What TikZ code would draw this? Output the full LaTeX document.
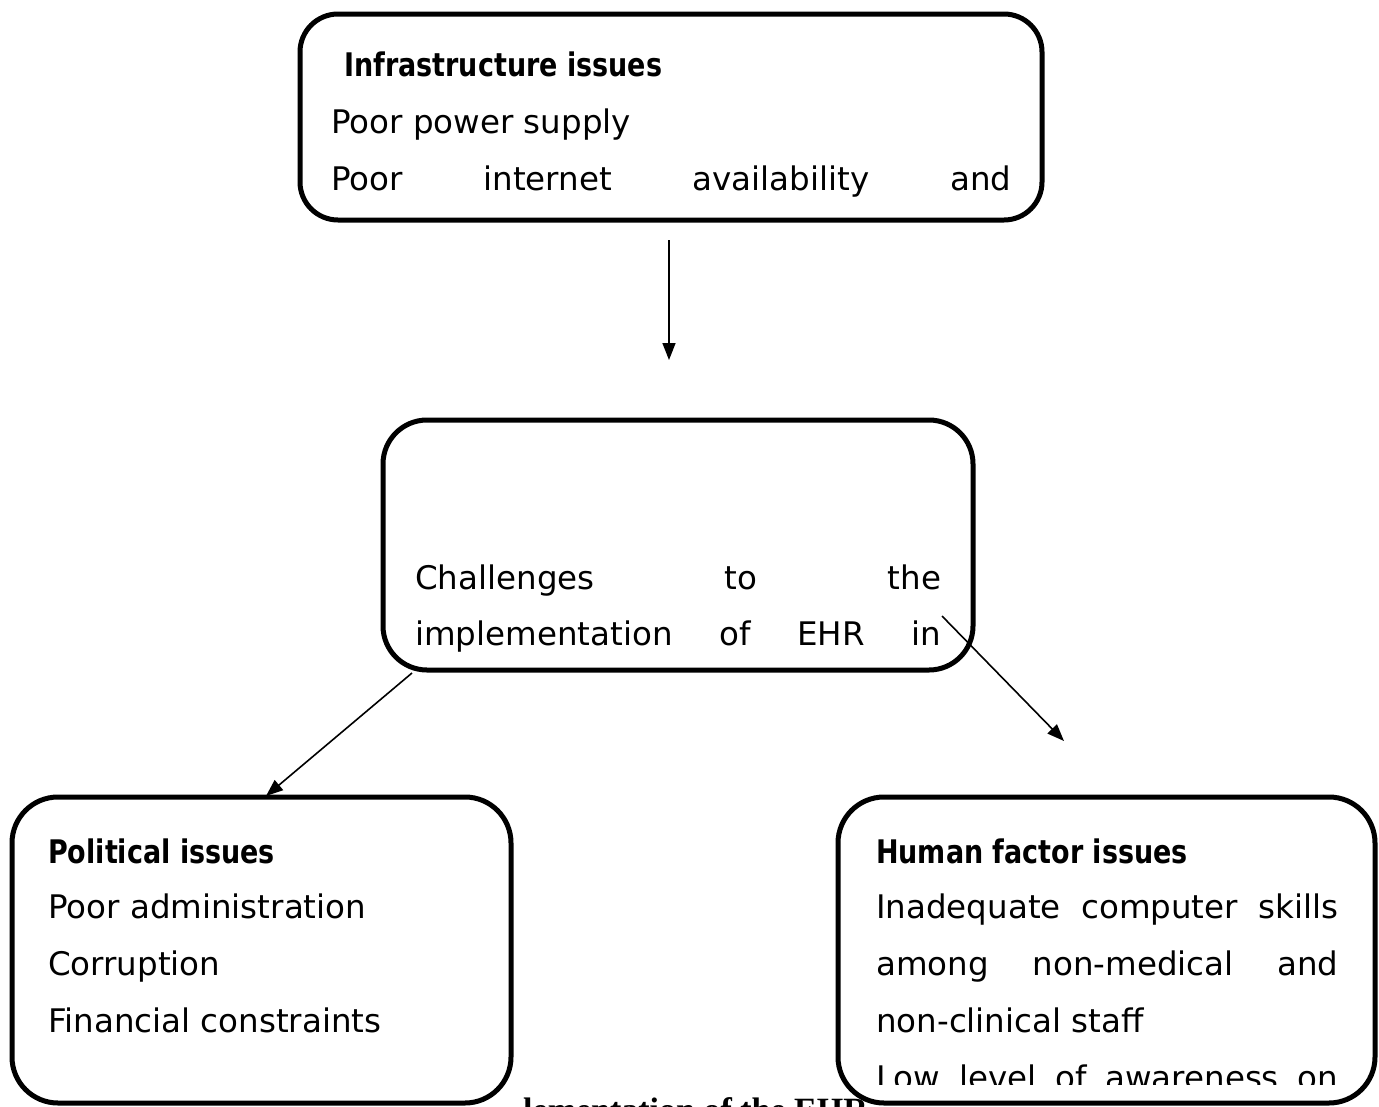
\documentclass[tikz,border=0pt]{standalone}
\usepackage{fontspec}
\usepackage{graphicx}
\setmainfont{DejaVu Sans}
\newfontfamily\capfont{Liberation Serif}
\usetikzlibrary{arrows.meta}
\tikzset{
  box/.style={draw=black, line width=5pt, fill=white, rounded corners=#1, inner sep=0pt},
  box/.default=42pt,
  txt/.style={anchor=base west, inner sep=0pt, font=\fontsize{32.5}{39}\selectfont},
  arr/.style={line width=1.6pt, -{Triangle[length=17pt,width=13pt]}},
}
\newcommand{\hd}[1]{\scalebox{0.83}[1]{\bfseries #1}}
\begin{document}
\begin{tikzpicture}[x=1pt,y=-1pt]
\useasboundingbox (0,0) rectangle (1379,1106);
\clip (0,0) rectangle (1379,1106);
\fill[white] (0,0) rectangle (1379,1106);

% caption (mostly hidden)
\node[anchor=base west, inner sep=0pt, font=\capfont\bfseries\fontsize{34}{40}\selectfont] (cap) at (523,1121) {lementation of the EHR};

% boxes
\node[box=38pt, minimum width=742pt, minimum height=206pt] (infra) at (671,117) {};
\node[box=44pt, minimum width=590pt, minimum height=250pt] (chal) at (678,545) {};
\node[box=46pt, minimum width=499pt, minimum height=306pt] (pol) at (261.5,950) {};
\node[box=46pt, minimum width=537pt, minimum height=306pt] (hum) at (1106.5,950) {};

% top box text
\node[txt] (t1) at (344,76) {\hd{Infrastructure issues}};
\node[txt] (t2) at (331,133) {Poor power supply};
\node[txt] (t3) at (331,190) {\makebox[680pt][s]{Poor\hfill internet\hfill availability\hfill and}};

% middle box text
\node[txt] (c1) at (415,589) {\makebox[526pt][s]{Challenges\hfill to\hfill the}};
\node[txt] (c2) at (415,645) {\makebox[526pt][s]{implementation\hfill of\hfill EHR\hfill in}};

% left box text
\node[txt] (p1) at (48,863) {\hd{Political issues}};
\node[txt] (p2) at (48,918) {Poor administration};
\node[txt] (p3) at (48,975) {Corruption};
\node[txt] (p4) at (48,1032) {Financial constraints};

% right box text
\node[txt] (h1) at (876,863) {\hd{Human factor issues}};
\node[txt] (h2) at (876,918) {\makebox[462pt][s]{Inadequate\hfill computer\hfill skills}};
\node[txt] (h3) at (876,975) {\makebox[462pt][s]{among\hfill non-medical\hfill and}};
\node[txt] (h4) at (876,1032) {non-clinical staff};
\begin{scope}
\clip (840,1040) rectangle (1379,1084);
\node[txt] (h5) at (876,1089) {\makebox[462pt][s]{Low\hfill level\hfill of\hfill awareness\hfill on}};
\end{scope}

% arrows
\coordinate (a1s) at (669,240);
\coordinate (a1e) at (669,360);
\coordinate (a2s) at (412,673);
\coordinate (a2e) at (266,796);
\coordinate (a3s) at (942,616);
\coordinate (a3e) at (1064,741);
\draw[arr] (a1s) -- (a1e);
\draw[arr] (a2s) -- (a2e);
\draw[arr] (a3s) -- (a3e);
\end{tikzpicture}
\end{document}
